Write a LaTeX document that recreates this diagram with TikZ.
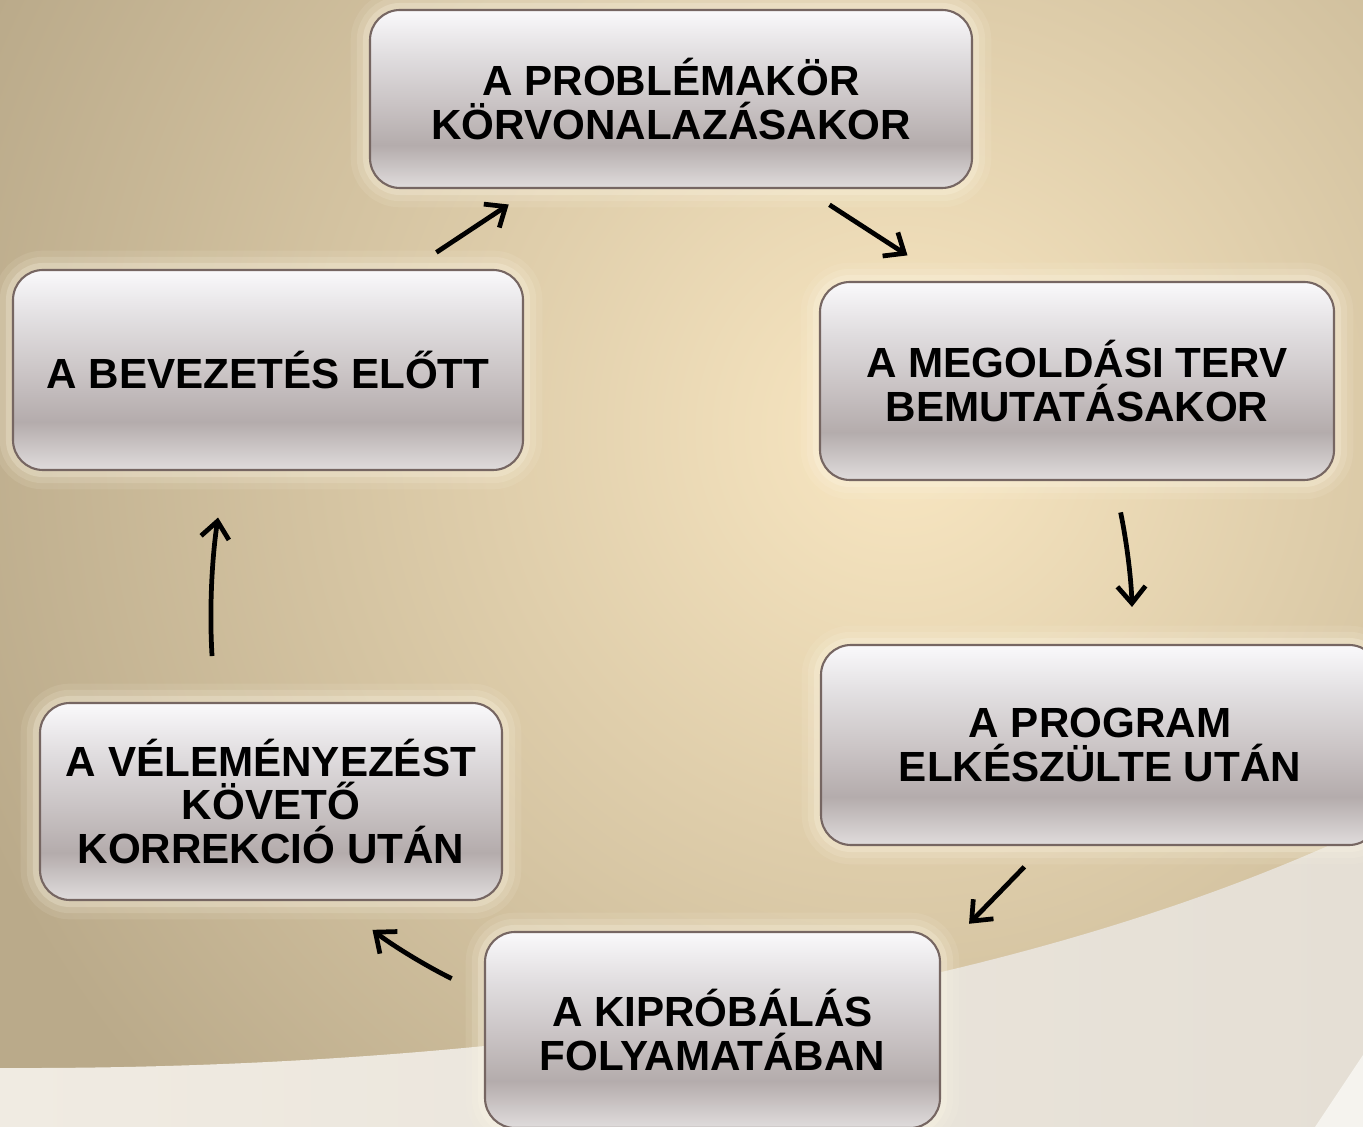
\documentclass[tikz,border=0pt]{standalone}
\usepackage{fontspec}
\setmainfont{Liberation Sans}
\usetikzlibrary{positioning,arrows.meta,calc}
\definecolor{bgLight}{RGB}{249,231,194}
\definecolor{bgDark}{RGB}{186,170,138}
\definecolor{waveLight}{RGB}{240,235,226}
\definecolor{waveGray}{RGB}{229,223,213}
\definecolor{waveEdge}{RGB}{245,243,238}
\definecolor{boxTop}{RGB}{250,249,251}
\definecolor{boxMid}{RGB}{224,221,223}
\definecolor{boxHalf}{RGB}{202,196,197}
\definecolor{boxDark}{RGB}{180,172,172}
\definecolor{boxLow}{RGB}{224,220,220}
\definecolor{boxEdge}{RGB}{118,102,98}
\definecolor{glow}{RGB}{253,247,230}
\pgfdeclareverticalshading{stageshade}{100bp}{color(0bp)=(boxLow); color(25bp)=(boxLow);
  color(37bp)=(boxDark); color(49bp)=(boxHalf); color(62bp)=(boxMid); color(75bp)=(boxTop); color(100bp)=(boxTop)}
\tikzset{
    stage/.style={rectangle, rounded corners=3mm, draw=boxEdge, line width=0.6pt,
                  shading=stageshade, align=center, inner sep=0pt,
                  font=\bfseries\fontsize{12}{12.5}\selectfont,
                  preaction={draw=glow, line width=11pt, opacity=0.10},
                  preaction={draw=glow, line width=7.5pt, opacity=0.15},
                  preaction={draw=glow, line width=4pt, opacity=0.25}},
    flow/.style={-{Straight Barb[length=4.8pt,width=8pt]}, line width=1.35pt, color=black}
}
\begin{document}
\begin{tikzpicture}
  \useasboundingbox (0,0) rectangle (13.63,-11.27);
  \clip (0,0) rectangle (13.63,-11.27);

  % Background
  \fill[bgDark] (0,0) rectangle (13.63,-11.27);
  \shade[inner color=bgLight, outer color=bgDark] (9.0,-4.3) circle (10);

  % Light wave at the bottom
  \shade[left color=waveLight, right color=waveGray]
    (0,-10.68) .. controls (5,-10.7) and (10,-10.0) .. (13.63,-8.3)
    -- (13.63,-11.27) -- (0,-11.27) -- cycle;
  \fill[waveEdge] (13.63,-10.55) -- (13.15,-11.27) -- (13.63,-11.27) -- cycle;

  % Stages of the cycle
  \node[stage, minimum width=6.02cm, minimum height=1.78cm] (prob) at (6.71,-0.99)
    {A PROBLÉMAKÖR\\KÖRVONALAZÁSAKOR};
  \node[stage, minimum width=5.14cm, minimum height=1.98cm] (terv) at (10.77,-3.81)
    {A MEGOLDÁSI TERV\\BEMUTATÁSAKOR};
  \node[stage, minimum width=5.58cm, minimum height=2.00cm] (prog) at (11.00,-7.45)
    {A PROGRAM\\ELKÉSZÜLTE UTÁN};
  \node[stage, minimum width=4.55cm, minimum height=1.96cm] (kipr) at (7.125,-10.30)
    {A KIPRÓBÁLÁS\\FOLYAMATÁBAN};
  \node[stage, minimum width=4.62cm, minimum height=1.97cm] (vel) at (2.71,-8.015)
    {A VÉLEMÉNYEZÉST\\KÖVETŐ\\KORREKCIÓ UTÁN};
  \node[stage, minimum width=5.10cm, minimum height=2.00cm] (bev) at (2.68,-3.70)
    {A BEVEZETÉS ELŐTT};

  % Arrows between the stages
  \draw[flow, shorten <=0.30cm, shorten >=0.28cm]
    ($(bev.north west)!0.78!(bev.north east)$) -- ($(prob.south west)!0.27!(prob.south east)$);
  \draw[flow, shorten <=0.29cm, shorten >=0.47cm]
    ($(prob.south west)!0.722!(prob.south east)$) -- ($(terv.north west)!0.248!(terv.north east)$);
  \draw[flow, shorten <=0.32cm, shorten >=0.37cm]
    ($(terv.south west)!0.572!(terv.south east)$) to[bend left=5] ($(prog.north west)!0.559!(prog.north east)$);
  \draw[flow, shorten <=0.29cm, shorten >=0.10cm]
    ($(prog.south west)!0.401!(prog.south east)$) -- ($(kipr.north west)!1.046!(kipr.north east)$);
  \draw[flow, shorten <=0.36cm, shorten >=0.465cm]
    ($(kipr.north west)!0.321!(kipr.south west)$) to[bend left=6] ($(vel.south west)!0.64!(vel.south east)$);
  \draw[flow, shorten <=0.46cm, shorten >=0.47cm]
    ($(vel.north west)!0.379!(vel.north east)$) to[bend left=6] ($(bev.south west)!0.416!(bev.south east)$);
\end{tikzpicture}
\end{document}
